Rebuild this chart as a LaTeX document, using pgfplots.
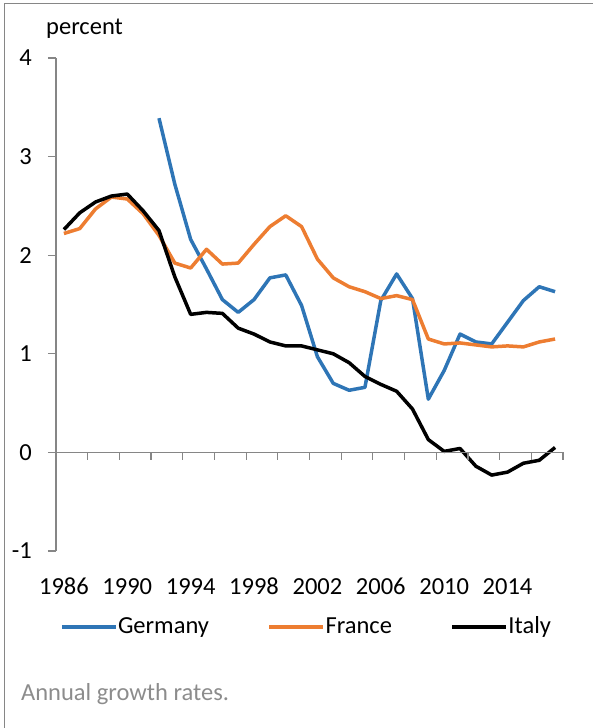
\documentclass[border=0pt]{standalone}
\usepackage{pgfplots}
\pgfplotsset{compat=1.18}
\usepackage{fontspec}
\setmainfont{Carlito}
\definecolor{gblue}{RGB}{46,117,182}
\definecolor{forange}{RGB}{237,125,49}
\definecolor{axgray}{RGB}{134,134,134}
\definecolor{notegray}{RGB}{140,140,140}
% x = year - 1986
\begin{document}
\fontsize{24.5bp}{29bp}\selectfont
\begin{tikzpicture}
\useasboundingbox (0,0) rectangle (593bp,728bp);
\draw[axgray, line width=1.2bp] (4.5bp,0) -- (4.5bp,724.5bp) -- (593bp,724.5bp);
\node[anchor=base west, inner sep=0pt] at (46bp,693bp) {percent};
\node[anchor=base west, inner sep=0pt, text=notegray] at (21bp,28bp) {Annual growth rates.};
\begin{axis}[
  at={(56bp,177bp)}, anchor=south west,
  scale only axis, width=507bp, height=493bp,
  xmin=-0.5, xmax=31.5, ymin=-1, ymax=4,
  axis x line*=bottom, axis y line*=left,
  x axis line style={draw=none},
  y axis line style={axgray, line width=1.2bp},
  ytick={-1,0,1,2,3,4}, yticklabels={-1,0,1,2,3,4},
  xtick={0,4,8,12,16,20,24,28},
  xticklabels={1986,1990,1994,1998,2002,2006,2010,2014},
  tick align=outside,
  major tick length=8bp,
  y tick style={axgray, line width=1.2bp},
  x tick style={draw=none},
  yticklabel style={anchor=east, inner sep=0pt, xshift=-16bp},
  xticklabel style={anchor=base, inner sep=0pt, yshift=-36bp},
  clip=false,
  legend columns=3,
  legend cell align=left,
  legend style={at={(axis description cs:0.0079,-0.1542)}, anchor=west,
    draw=none, fill=none, inner sep=0pt, outer sep=0pt,
    nodes={inner sep=0.5bp},
    /tikz/every even column/.append style={column sep=58bp}},
  legend image code/.code={\draw[#1, line width=3.5bp] (0bp,0bp) -- (54bp,0bp);},
  every axis plot/.append style={line width=3.5bp, line join=round, no markers},
]
\addplot[gblue] coordinates {
(6,3.39) (7,2.72) (8,2.16) (9,1.86) (10,1.55) (11,1.42)
(12,1.55) (13,1.77) (14,1.80) (15,1.49) (16,0.97) (17,0.70)
(18,0.63) (19,0.66) (20,1.54) (21,1.81) (22,1.56) (23,0.54)
(24,0.83) (25,1.20) (26,1.12) (27,1.10) (28,1.32) (29,1.54)
(30,1.68) (31,1.63)};
\addlegendentry{Germany}
\addplot[forange] coordinates {
(0,2.22) (1,2.27) (2,2.47) (3,2.59) (4,2.57) (5,2.42)
(6,2.20) (7,1.92) (8,1.87) (9,2.06) (10,1.91) (11,1.92)
(12,2.11) (13,2.29) (14,2.40) (15,2.29) (16,1.96) (17,1.77)
(18,1.68) (19,1.63) (20,1.56) (21,1.59) (22,1.55) (23,1.15)
(24,1.10) (25,1.11) (26,1.09) (27,1.07) (28,1.08) (29,1.07)
(30,1.12) (31,1.15)};
\addlegendentry{France}
\addplot[black] coordinates {
(0,2.26) (1,2.43) (2,2.54) (3,2.60) (4,2.62) (5,2.45)
(6,2.25) (7,1.78) (8,1.40) (9,1.42) (10,1.41) (11,1.26)
(12,1.20) (13,1.12) (14,1.08) (15,1.08) (16,1.04) (17,1.00)
(18,0.91) (19,0.77) (20,0.69) (21,0.62) (22,0.44) (23,0.13)
(24,0.01) (25,0.04) (26,-0.14) (27,-0.23) (28,-0.20) (29,-0.11)
(30,-0.08) (31,0.05)};
\addlegendentry{Italy}
\draw[axgray, line width=1.2bp] (axis cs:-0.5,0) -- (axis cs:31.5,0);
\pgfplotsinvokeforeach{-0.5,1.5,3.5,5.5,7.5,9.5,11.5,13.5,15.5,17.5,19.5,21.5,23.5,25.5,27.5,29.5,31.5}{
  \draw[axgray, line width=1.2bp] (axis cs:#1,0) -- ([yshift=-8bp]axis cs:#1,0);
}
\end{axis}
\end{tikzpicture}
\end{document}
